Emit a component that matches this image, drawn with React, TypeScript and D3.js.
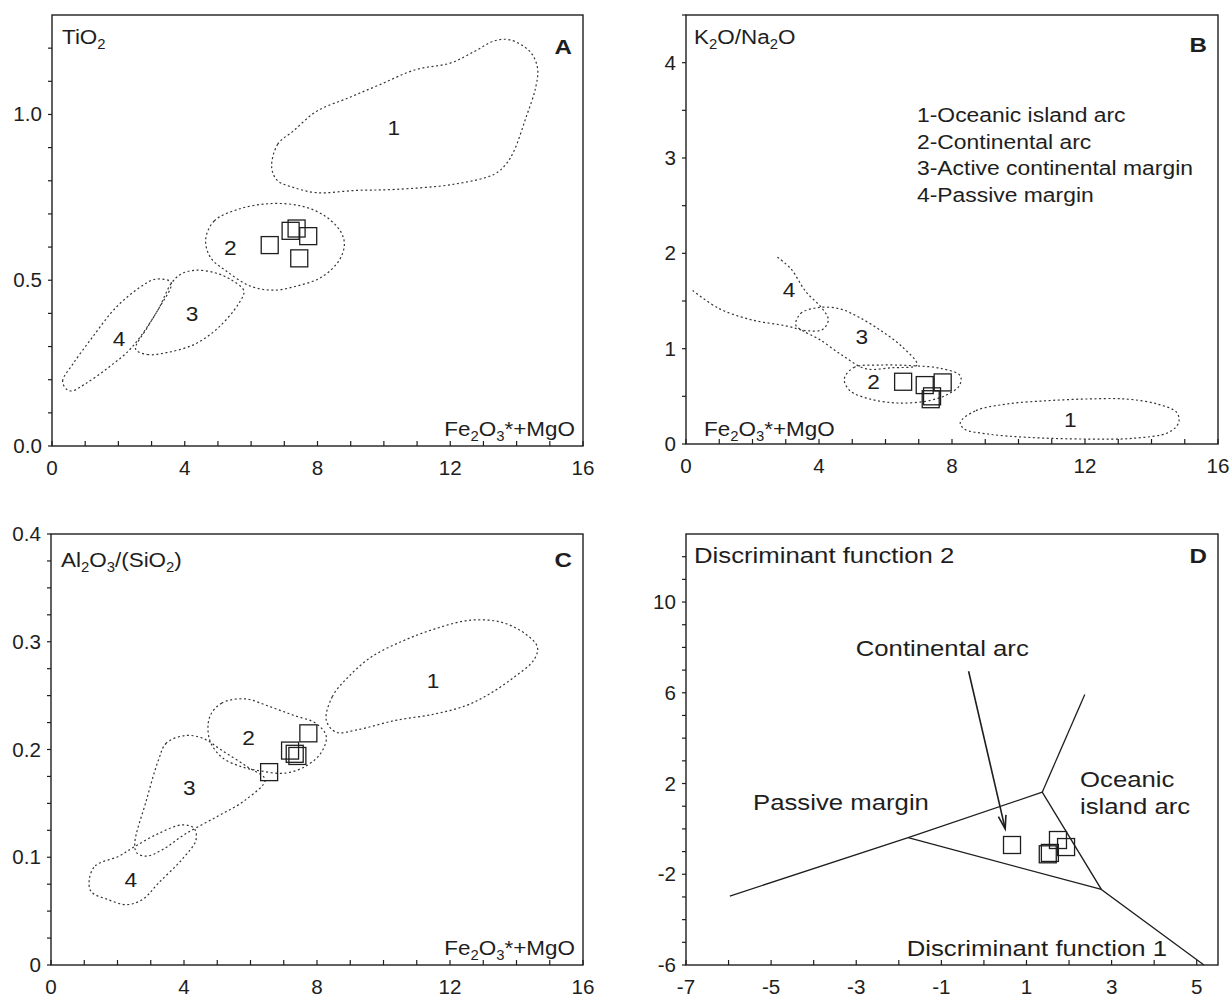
import React from 'react';
import * as d3 from 'd3';

type Pt = [number, number];

const FONT = 'Liberation Sans, Arial, Helvetica, sans-serif';
const INK = '#1e1e1e';

// ---------- A: TiO2 vs Fe2O3*+MgO ----------
const tiOceanic: Pt[] = [[6.62,0.84],[6.8,0.91],[7.27,0.95],[7.98,1.01],[8.93,1.05],[9.88,1.09],[10.95,1.135],[12.0,1.155],[12.73,1.19],[13.33,1.222],[13.8,1.225],[14.4,1.19],[14.63,1.14],[14.57,1.08],[14.28,0.99],[13.92,0.89],[13.68,0.85],[13.33,0.82],[12.14,0.79],[10.36,0.774],[9.17,0.771],[7.98,0.764],[7.27,0.78],[6.8,0.8]];
const tiContArc: Pt[] = [[4.63,0.623],[4.89,0.679],[5.61,0.714],[6.56,0.731],[7.51,0.724],[8.22,0.694],[8.69,0.648],[8.81,0.608],[8.64,0.558],[8.1,0.508],[7.39,0.483],[6.68,0.47],[5.96,0.483],[5.25,0.528],[4.78,0.568]];
const tiActive: Pt[] = [[2.52,0.292],[2.87,0.276],[3.47,0.282],[4.3,0.307],[5.01,0.357],[5.61,0.427],[5.78,0.468],[5.37,0.503],[4.89,0.523],[4.3,0.53],[3.88,0.518],[3.59,0.49],[3.23,0.417],[2.87,0.357]];
const tiPassive: Pt[] = [[0.44,0.171],[0.32,0.196],[0.62,0.246],[1.21,0.327],[1.92,0.417],[2.64,0.478],[3.11,0.503],[3.59,0.493],[3.23,0.417],[2.4,0.297],[1.69,0.236],[0.98,0.186],[0.6,0.166]];
const tiLabels: [string, number, number][] = [['1',10.3,0.96],['2',5.37,0.598],['3',4.22,0.397],['4',2.02,0.322]];
const tiSamples: Pt[] = [[6.56,0.606],[7.19,0.649],[7.37,0.656],[7.72,0.633],[7.45,0.566]];

// ---------- B: K2O/Na2O vs Fe2O3*+MgO ----------
const kOceanic: Pt[] = [[8.25,0.227],[8.72,0.35],[9.67,0.42],[10.85,0.454],[12.04,0.472],[13.22,0.472],[14.17,0.42],[14.76,0.33],[14.82,0.227],[14.52,0.122],[13.46,0.06],[12.04,0.052],[10.26,0.07],[9.08,0.105],[8.37,0.157]];
const kContArc: Pt[] = [[4.76,0.681],[5.05,0.803],[5.88,0.828],[6.83,0.821],[7.66,0.793],[8.25,0.716],[8.22,0.611],[7.89,0.524],[7.3,0.454],[6.36,0.43],[5.53,0.472],[4.93,0.559]];
const kActive: Pt[] = [[3.3,1.25],[3.45,1.37],[3.95,1.43],[4.6,1.42],[5.2,1.33],[5.9,1.18],[6.5,1.02],[6.95,0.83],[6.2,0.8],[5.4,0.79],[4.7,0.93],[4.0,1.1],[3.5,1.19]];
const kPassive: Pt[] = [[0.2,1.61],[1.0,1.42],[2.0,1.3],[3.0,1.24],[3.6,1.19],[4.1,1.2],[4.28,1.3],[4.1,1.42],[3.6,1.6],[3.15,1.84],[2.75,1.96]];
const kLabels: [string, number, number][] = [['1',11.56,0.255],['2',5.64,0.646],['3',5.29,1.12],['4',3.1,1.62]];
const kSamples: Pt[] = [[6.53,0.653],[7.18,0.618],[7.72,0.646],[7.4,0.5],[7.36,0.47]];
const settingNames = ['1-Oceanic island arc', '2-Continental arc', '3-Active continental margin', '4-Passive margin'];

// ---------- C: Al2O3/SiO2 vs Fe2O3*+MgO ----------
const alOceanic: Pt[] = [[8.28,0.227],[8.46,0.249],[8.93,0.267],[9.64,0.286],[10.6,0.301],[11.55,0.312],[12.61,0.32],[13.56,0.318],[14.28,0.307],[14.63,0.295],[14.52,0.283],[13.92,0.267],[13.21,0.252],[12.5,0.241],[11.55,0.233],[10.36,0.227],[9.17,0.218],[8.58,0.216]];
const alContArc: Pt[] = [[4.77,0.23],[5.13,0.243],[5.84,0.247],[6.56,0.24],[7.27,0.232],[7.98,0.224],[8.28,0.212],[8.1,0.196],[7.63,0.184],[7.03,0.178],[6.32,0.18],[5.73,0.184],[5.13,0.193],[4.77,0.209]];
const alActive: Pt[] = [[4.06,0.213],[3.47,0.206],[3.23,0.19],[2.87,0.153],[2.52,0.113],[2.58,0.104],[2.87,0.101],[3.35,0.107],[4.06,0.122],[5.01,0.138],[5.84,0.153],[6.44,0.172],[5.9,0.184],[5.1,0.2],[4.6,0.21]];
const alPassive: Pt[] = [[1.15,0.079],[1.33,0.092],[2.04,0.101],[2.52,0.11],[3.23,0.122],[3.94,0.13],[4.3,0.127],[4.36,0.116],[3.94,0.098],[3.23,0.076],[2.76,0.061],[2.28,0.056],[1.69,0.061],[1.21,0.068]];
const alLabels: [string, number, number][] = [['1',11.49,0.264],['2',5.94,0.211],['3',4.16,0.164],['4',2.4,0.079]];
const alSamples: Pt[] = [[7.74,0.215],[7.19,0.199],[7.33,0.196],[7.41,0.194],[6.56,0.179]];

// ---------- D: discriminant functions ----------
const dfBoundaries: Pt[][] = [
  [[-5.97,-2.96],[-1.78,-0.39],[1.37,1.62]],
  [[1.37,1.62],[2.37,5.92]],
  [[-1.78,-0.39],[2.76,-2.67]],
  [[1.37,1.62],[2.76,-2.67],[5.17,-6]],
];
const dfArrow: Pt[] = [[-0.36,6.95],[0.5,0.0]];
const dfSamples: Pt[] = [[0.66,-0.71],[1.74,-0.49],[1.93,-0.8],[1.55,-1.06],[1.5,-1.12]];

const range = (a: number, b: number, s: number) => d3.range(a, b + s / 2, s);

type Box = { left: number; top: number; width: number; height: number };

// the source figure's type is a little wider than Arial, so text gets a horizontal stretch
const T = ({ x, y, size = 21, sx = 1, anchor = 'start', bold = false, children }: any) => (
  <text transform={`translate(${x},${y}) scale(${sx},1)`} textAnchor={anchor} fontSize={size}
    fontWeight={bold ? 'bold' : 'normal'} fontFamily={FONT} fill={INK}>{children}</text>
);

// text with _digit subscripts, e.g. "Fe_2O_3*+MgO"
const Chem = ({ s, x, y, size = 21, sx = 1.07, anchor = 'start' }: any) => {
  const parts = s.split(/_(\d)/);
  const out: any[] = [];
  let down = false;
  parts.forEach((p: string, i: number) => {
    if (!p) return;
    if (i % 2 === 1) {
      out.push(<tspan key={i} fontSize={size * 0.66} dy={size * 0.22}>{p}</tspan>);
      down = true;
    } else {
      out.push(<tspan key={i} dy={down ? -size * 0.22 : 0}>{p}</tspan>);
      down = false;
    }
  });
  return <T x={x} y={y} size={size} sx={sx} anchor={anchor}>{out}</T>;
};

const Panel = ({ box, xDomain, yDomain, xMinor, xLabels, yMinor, yLabels, yFmt, children }: any) => {
  const x = d3.scaleLinear().domain(xDomain).range([box.left, box.left + box.width]);
  const y = d3.scaleLinear().domain(yDomain).range([box.top + box.height, box.top]);
  const bottom = box.top + box.height;
  return (
    <g>
      <rect x={box.left} y={box.top} width={box.width} height={box.height} fill="none" stroke={INK} strokeWidth={1.4} />
      {xMinor.map((v: number) => (
        <line key={'xm' + v} x1={x(v)} x2={x(v)} y1={bottom} y2={bottom - 5} stroke={INK} strokeWidth={1.2} />
      ))}
      {yMinor.map((v: number) => (
        <line key={'ym' + v} x1={box.left - 4} x2={box.left} y1={y(v)} y2={y(v)} stroke={INK} strokeWidth={1.2} />
      ))}
      {xLabels.map((v: number) => (
        <T key={'xl' + v} x={x(v)} y={bottom + 29} size={20} sx={1.03} anchor="middle">{v}</T>
      ))}
      {yLabels.map((v: number) => (
        <T key={'yl' + v} x={box.left - 10} y={y(v) + 7} size={20} sx={1.03} anchor="end">{yFmt(v)}</T>
      ))}
      {children(x, y)}
    </g>
  );
};

const Fields = ({ x, y, closed, open = [], labels }: any) => {
  const lc = d3.line<Pt>().x(d => x(d[0])).y(d => y(d[1])).curve(d3.curveCatmullRomClosed.alpha(0.5));
  const lo = d3.line<Pt>().x(d => x(d[0])).y(d => y(d[1])).curve(d3.curveCatmullRom.alpha(0.5));
  return (
    <g>
      {closed.map((r: Pt[], i: number) => (
        <path key={'c' + i} d={lc(r) || ''} fill="none" stroke="#333" strokeWidth={1.2} strokeDasharray="2,2.6" />
      ))}
      {open.map((r: Pt[], i: number) => (
        <path key={'o' + i} d={lo(r) || ''} fill="none" stroke="#333" strokeWidth={1.2} strokeDasharray="2,2.6" />
      ))}
      {labels.map(([t, a, b]: [string, number, number]) => (
        <T key={'l' + t} x={x(a)} y={y(b) + 7} size={21} sx={1.08} anchor="middle">{t}</T>
      ))}
    </g>
  );
};

const Samples = ({ x, y, pts, size = 17 }: any) => (
  <g>
    {pts.map((p: Pt, i: number) => (
      <rect key={i} x={x(p[0]) - size / 2} y={y(p[1]) - size / 2} width={size} height={size} fill="none" stroke={INK} strokeWidth={1.3} />
    ))}
  </g>
);

const boxA: Box = { left: 52, top: 15, width: 531, height: 431 };
const boxB: Box = { left: 686, top: 15, width: 532, height: 429 };
const boxC: Box = { left: 51, top: 534, width: 532, height: 431 };
const boxD: Box = { left: 686, top: 534, width: 532, height: 431 };

const App = () => {
  const f1 = d3.format('.1f');
  const xMinor16 = range(0, 16, 1);
  const xLab16 = [0, 4, 8, 12, 16];
  const DS = 1.17;
  return (
    <svg width={1231} height={1000} style={{ position: 'absolute', left: 0, top: 0, background: '#fff' }}>
      {/* A */}
      <Panel box={boxA} xDomain={[0, 16]} yDomain={[0, 1.3]} xMinor={xMinor16} xLabels={xLab16}
        yMinor={range(0, 1.2, 0.1)} yLabels={[0, 0.5, 1.0]} yFmt={f1}>
        {(x: any, y: any) => (
          <g>
            <Fields x={x} y={y} closed={[tiOceanic, tiContArc, tiActive, tiPassive]} labels={tiLabels} />
            <Samples x={x} y={y} pts={tiSamples} />
            <Chem s="TiO_2" x={boxA.left + 10} y={boxA.top + 29} />
            <T x={boxA.left + boxA.width - 11} y={boxA.top + 39} size={21} sx={1.15} bold anchor="end">A</T>
            <Chem s="Fe_2O_3*+MgO" x={boxA.left + boxA.width - 8} y={boxA.top + boxA.height - 10} anchor="end" />
          </g>
        )}
      </Panel>
      {/* B */}
      <Panel box={boxB} xDomain={[0, 16]} yDomain={[0, 4.5]} xMinor={xMinor16} xLabels={xLab16}
        yMinor={range(0, 4.5, 0.5)} yLabels={[0, 1, 2, 3, 4]} yFmt={(v: number) => String(v)}>
        {(x: any, y: any) => (
          <g>
            <Fields x={x} y={y} closed={[kOceanic, kContArc, kActive]} open={[kPassive]} labels={kLabels} />
            <Samples x={x} y={y} pts={kSamples} />
            <Chem s="K_2O/Na_2O" x={boxB.left + 8} y={boxB.top + 29} />
            <T x={boxB.left + boxB.width - 11} y={boxB.top + 37} size={21} sx={1.15} bold anchor="end">B</T>
            <Chem s="Fe_2O_3*+MgO" x={boxB.left + 18} y={boxB.top + boxB.height - 8} />
            {settingNames.map((t, i) => (
              <T key={t} x={boxB.left + 231} y={boxB.top + 107 + i * 26.6} size={21} sx={1.09}>{t}</T>
            ))}
          </g>
        )}
      </Panel>
      {/* C */}
      <Panel box={boxC} xDomain={[0, 16]} yDomain={[0, 0.4]} xMinor={xMinor16} xLabels={xLab16}
        yMinor={range(0, 0.4, 0.025)} yLabels={[0, 0.1, 0.2, 0.3, 0.4]} yFmt={(v: number) => (v === 0 ? '0' : f1(v))}>
        {(x: any, y: any) => (
          <g>
            <Fields x={x} y={y} closed={[alOceanic, alContArc, alActive, alPassive]} labels={alLabels} />
            <Samples x={x} y={y} pts={alSamples} />
            <Chem s="Al_2O_3/(SiO_2)" x={boxC.left + 10} y={boxC.top + 33} />
            <T x={boxC.left + boxC.width - 11} y={boxC.top + 33} size={21} sx={1.15} bold anchor="end">C</T>
            <Chem s="Fe_2O_3*+MgO" x={boxC.left + boxC.width - 8} y={boxC.top + boxC.height - 10} anchor="end" />
          </g>
        )}
      </Panel>
      {/* D */}
      <Panel box={boxD} xDomain={[-7, 5.5]} yDomain={[-6, 13]} xMinor={range(-7, 5, 1)} xLabels={[-7, -5, -3, -1, 1, 3, 5]}
        yMinor={range(-6, 12, 1)} yLabels={[-6, -2, 2, 6, 10]} yFmt={(v: number) => String(v)}>
        {(x: any, y: any) => {
          const ln = d3.line<Pt>().x(d => x(d[0])).y(d => y(d[1]));
          const [a0, a1] = dfArrow;
          const ang = Math.atan2(y(a1[1]) - y(a0[1]), x(a1[0]) - x(a0[0]));
          const hx = x(a1[0]), hy = y(a1[1]);
          const head = [ang + Math.PI - 0.28, ang + Math.PI + 0.28].map(t => [hx + 14 * Math.cos(t), hy + 14 * Math.sin(t)]);
          return (
            <g>
              {dfBoundaries.map((s, i) => (
                <path key={i} d={ln(s) || ''} fill="none" stroke={INK} strokeWidth={1.3} />
              ))}
              <path d={ln(dfArrow) || ''} fill="none" stroke={INK} strokeWidth={1.6} />
              <path d={`M${head[0][0]},${head[0][1]}L${hx},${hy}L${head[1][0]},${head[1][1]}`} fill="none" stroke={INK} strokeWidth={1.6} />
              <Samples x={x} y={y} pts={dfSamples} />
              <T x={boxD.left + 8} y={boxD.top + 29} size={22} sx={DS}>Discriminant function 2</T>
              <T x={boxD.left + boxD.width - 11} y={boxD.top + 29} size={21} sx={1.15} bold anchor="end">D</T>
              <T x={boxD.left + boxD.width - 51} y={boxD.top + boxD.height - 9} size={22} sx={DS} anchor="end">Discriminant function 1</T>
              <T x={x(-0.98)} y={boxD.top + 122} size={22} sx={DS} anchor="middle">Continental arc</T>
              <T x={boxD.left + 67} y={boxD.top + 276} size={22} sx={DS}>Passive margin</T>
              <T x={boxD.left + 394} y={boxD.top + 253} size={22} sx={DS}>Oceanic</T>
              <T x={boxD.left + 394} y={boxD.top + 280} size={22} sx={DS}>island arc</T>
            </g>
          );
        }}
      </Panel>
    </svg>
  );
};

export default App;
